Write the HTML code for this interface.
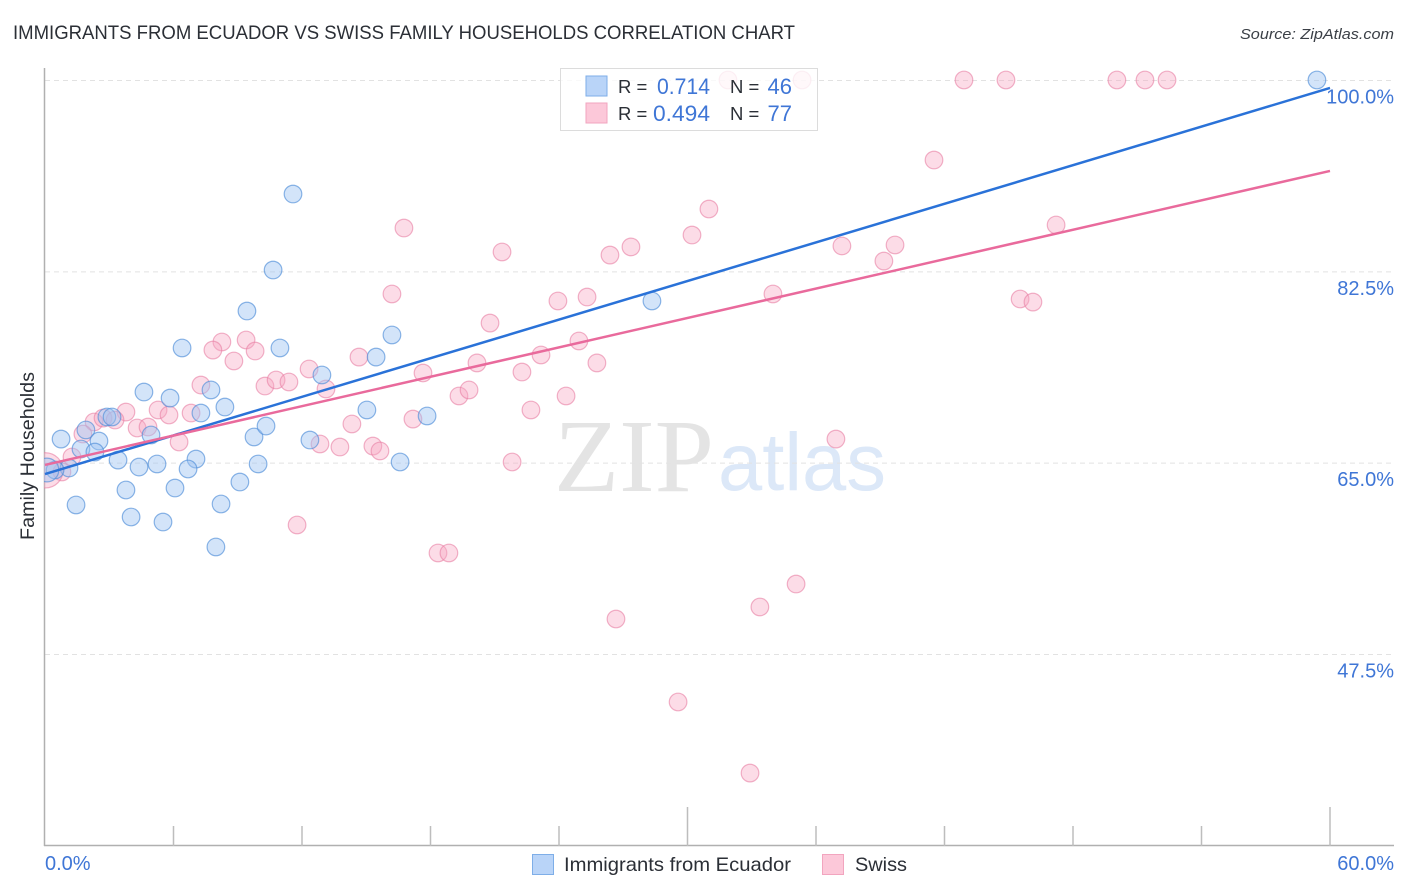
<!DOCTYPE html>
<html lang="en">
<head>
<meta charset="utf-8">
<title>Immigrants from Ecuador vs Swiss Family Households Correlation Chart</title>
<style>
html,body{margin:0;padding:0;background:#fff;}
body{width:1406px;height:892px;overflow:hidden;}
svg{display:block;font-family:"Liberation Sans",sans-serif;}
</style>
</head>
<body>
<svg id="chart" width="1406" height="892" viewBox="0 0 1406 892" xmlns="http://www.w3.org/2000/svg">
  <defs><clipPath id="plot-clip"><rect x="44" y="60" width="1362" height="790"/></clipPath></defs>
  <text x="13" y="39" font-size="19.5" fill="#2b2f36" textLength="782" lengthAdjust="spacingAndGlyphs">IMMIGRANTS FROM ECUADOR VS SWISS FAMILY HOUSEHOLDS CORRELATION CHART</text>
  <text x="1394" y="39" font-size="15" font-style="italic" fill="#3a3f46" text-anchor="end" textLength="154" lengthAdjust="spacingAndGlyphs">Source: ZipAtlas.com</text>
  <g id="watermark">
    <text x="554" y="491" font-family="'Liberation Serif',serif" font-size="104" fill="#e4e4e4" textLength="160" lengthAdjust="spacingAndGlyphs">ZIP</text>
    <text x="718" y="490" font-size="82" fill="#dce8f8" textLength="168" lengthAdjust="spacingAndGlyphs">atlas</text>
  </g>
  <g id="grid"></g>
  <g id="axes"></g>
  <g id="points" clip-path="url(#plot-clip)"></g>
  <g id="trends"></g>
  <g id="stats-legend">
    <rect x="560.5" y="68.5" width="257" height="62" fill="#ffffff" fill-opacity="0.8" stroke="#dcdcdc" stroke-width="1"/>
    <rect x="586" y="76" width="21" height="20" fill="#b9d4f8" stroke="#7eaee8" stroke-width="1"/>
    <rect x="586" y="103" width="21" height="20" fill="#fcc8d9" stroke="#f2a5bf" stroke-width="1"/>
    <text x="618" y="93" font-size="18.5" fill="#2b2f36">R =</text>
    <text x="710" y="94" font-size="22" fill="#3f76d6" text-anchor="end" textLength="53" lengthAdjust="spacingAndGlyphs">0.714</text>
    <text x="730" y="93" font-size="18.5" fill="#2b2f36">N =</text>
    <text x="792" y="94" font-size="22" fill="#3f76d6" text-anchor="end">46</text>
    <text x="618" y="120" font-size="18.5" fill="#2b2f36">R =</text>
    <text x="710" y="121" font-size="22" fill="#3f76d6" text-anchor="end" textLength="57" lengthAdjust="spacingAndGlyphs">0.494</text>
    <text x="730" y="120" font-size="18.5" fill="#2b2f36">N =</text>
    <text x="792" y="121" font-size="22" fill="#3f76d6" text-anchor="end">77</text>
  </g>
  <text transform="translate(34,456) rotate(-90)" font-size="19" fill="#2b2f36" text-anchor="middle" textLength="168" lengthAdjust="spacingAndGlyphs">Family Households</text>
  <g id="bottom-legend">
    <rect x="532.5" y="854.5" width="21" height="20" fill="#b9d4f8" stroke="#7eaee8" stroke-width="1"/>
    <text x="564" y="871" font-size="19.5" fill="#2b2f36" textLength="227" lengthAdjust="spacingAndGlyphs">Immigrants from Ecuador</text>
    <rect x="822.5" y="854.5" width="21" height="20" fill="#fcc8d9" stroke="#f2a5bf" stroke-width="1"/>
    <text x="855" y="871" font-size="19.5" fill="#2b2f36" textLength="52" lengthAdjust="spacingAndGlyphs">Swiss</text>
  </g>
</svg>
<script>
const yTickValues = [100, 82.5, 65, 47.5];
const yTickLabels = ["100.0%", "82.5%", "65.0%", "47.5%"];
const xTickValues = [6, 12, 18, 24, 30, 36, 42, 48, 54, 60];
const xTallTicks = [30, 60];
const xEndLabels = ["0.0%", "60.0%"];

const ecuadorX = [59.39,11.58,10.65,9.43,28.34,16.20,6.40,10.97,15.46,12.93,4.62,5.84,7.75,8.40,7.28,15.03,17.84,2.89,3.13,0.75,1.91,4.95,2.52,9.76,10.32,12.37,1.68,2.33,3.41,4.39,5.23,7.05,6.68,9.95,16.58,1.12,0.47,0.09,3.78,6.07,9.10,1.45,8.22,4.02,5.51,7.98];
const ecuadorY = [100,89.57,82.62,78.87,79.79,76.68,75.49,75.49,74.66,73.02,71.46,70.91,71.65,70.09,69.54,69.82,69.27,69.18,69.18,67.16,67.99,67.53,66.98,67.35,68.35,67.07,66.25,65.97,65.24,64.60,64.88,65.33,64.42,64.88,65.06,64.51,64.33,64.33,62.50,62.68,63.23,61.13,61.22,60.03,59.57,57.29];
const ecuadorWeights = [1,1,1,1,1,1,1,1,1,1,1,1,1,1,1,1,1,1,1,1,1,1,1,1,1,1,1,1,1,1,1,1,1,1,1,1,1,1.35,1,1,1,1,1,1,1,1];

const swissX = [31.89,35.35,42.91,44.87,50.05,51.36,52.39,41.51,31.00,16.76,30.21,27.36,26.38,21.34,37.21,39.69,39.17,47.21,16.20,23.95,25.31,33.99,45.53,46.13,20.78,24.93,23.16,25.77,20.17,14.66,9.39,8.26,7.84,9.81,8.82,12.33,17.65,22.27,7.28,10.27,10.79,11.39,13.12,19.33,19.80,24.33,22.69,17.18,14.33,5.28,5.79,6.82,3.78,2.29,2.71,3.27,4.30,4.81,1.77,6.26,12.84,13.77,15.31,15.64,21.81,36.93,1.26,0.79,0.02,11.77,18.35,18.86,26.66,33.38,35.07,29.56,32.92];
const swissY = [100,100,100,100,100,100,100,92.68,88.20,86.46,85.82,84.73,83.99,84.27,84.82,84.91,83.44,86.74,80.43,79.79,80.15,80.43,79.97,79.69,77.77,76.13,74.85,74.12,74.12,74.66,76.22,76.04,75.30,75.21,74.30,73.57,73.20,73.29,72.10,72.01,72.56,72.38,71.74,71.10,71.65,71.10,69.82,68.99,68.54,69.82,69.36,69.54,69.63,68.72,69.08,68.90,68.17,68.26,67.62,66.89,66.71,66.43,66.52,66.07,65.06,67.16,65.52,64.15,64.30,59.30,56.74,56.74,50.70,51.80,53.90,43.11,36.61];
const swissWeights = [1,1,1,1,1,1,1,1,1,1,1,1,1,1,1,1,1,1,1,1,1,1,1,1,1,1,1,1,1,1,1,1,1,1,1,1,1,1,1,1,1,1,1,1,1,1,1,1,1,1,1,1,1,1,1,1,1,1,1,1,1,1,1,1,1,1,1,1,2,1,1,1,1,1,1,1,1];

const ecuadorTrendX = [0, 60];
const ecuadorTrendY = [63.96, 99.27];
const swissTrendX = [0, 60];
const swissTrendY = [64.79, 91.68];

const SVG_NS = "http://www.w3.org/2000/svg";
function xScale(v) { return 45 + (v / 60) * 1285; }
function yScale(v) { return 80 + ((100 - v) / 52.5) * 574; }
function make(tag, attrs, parent) {
  const el = document.createElementNS(SVG_NS, tag);
  for (const k in attrs) el.setAttribute(k, attrs[k]);
  parent.appendChild(el);
  return el;
}

const grid = document.getElementById("grid");
const axes = document.getElementById("axes");
const pointsLayer = document.getElementById("points");
const trends = document.getElementById("trends");

yTickValues.forEach(function (v, i) {
  const line = make("line", {x1: 45, x2: 1394, y1: yScale(v) + 0.5, y2: yScale(v) + 0.5, stroke: "#e2e2e2", "stroke-width": 1, "stroke-dasharray": "5 4"}, grid);
  
  
  const label = make("text", {x: 1394, y: yScale(v) + 23.5, "font-size": 20, fill: "#3f76d6", "text-anchor": "end"}, axes);
  
  
  label.textContent = yTickLabels[i];
});

const yAxis = make("line", {x1: 44.5, x2: 44.5, y1: 68, y2: 846, stroke: "#b0b0b0", "stroke-width": 1.5}, axes);


const xAxis = make("line", {x1: 44, x2: 1394, y1: 845.5, y2: 845.5, stroke: "#b0b0b0", "stroke-width": 1.5}, axes);



xTickValues.forEach(function (v) {
  const tick = make("line", {x1: xScale(v), x2: xScale(v), y1: xTallTicks.includes(v) ? 807 : 826, y2: 846, stroke: "#bdbdbd", "stroke-width": 1.5}, axes);
  
  
});

const xLabelStart = make("text", {x: 45, y: 870, "font-size": 20, fill: "#3f76d6"}, axes);


xLabelStart.textContent = xEndLabels[0];
const xLabelEnd = make("text", {x: 1394, y: 870, "font-size": 20, fill: "#3f76d6", "text-anchor": "end"}, axes);


xLabelEnd.textContent = xEndLabels[1];

swissX.forEach(function (v, i) {
  const c = make("circle", {cx: xScale(v), cy: yScale(swissY[i]), r: 8.8 * swissWeights[i], fill: "#f8a8c4", "fill-opacity": 0.4, stroke: "#e77fa3", "stroke-opacity": 0.6, "stroke-width": 1.2}, pointsLayer);
  
  
});
ecuadorX.forEach(function (v, i) {
  const c = make("circle", {cx: xScale(v), cy: yScale(ecuadorY[i]), r: 8.8 * ecuadorWeights[i], fill: "#9dc3f2", "fill-opacity": 0.45, stroke: "#4f8ed8", "stroke-opacity": 0.65, "stroke-width": 1.2}, pointsLayer);
  
  
});

const ecuadorLine = make("line", {x1: xScale(ecuadorTrendX[0]), y1: yScale(ecuadorTrendY[0]), x2: xScale(ecuadorTrendX[1]), y2: yScale(ecuadorTrendY[1]), stroke: "#2a72d8", "stroke-width": 2.5}, trends);


const swissLine = make("line", {x1: xScale(swissTrendX[0]), y1: yScale(swissTrendY[0]), x2: xScale(swissTrendX[1]), y2: yScale(swissTrendY[1]), stroke: "#e96a9c", "stroke-width": 2.5}, trends);


</script>
</body>
</html>
